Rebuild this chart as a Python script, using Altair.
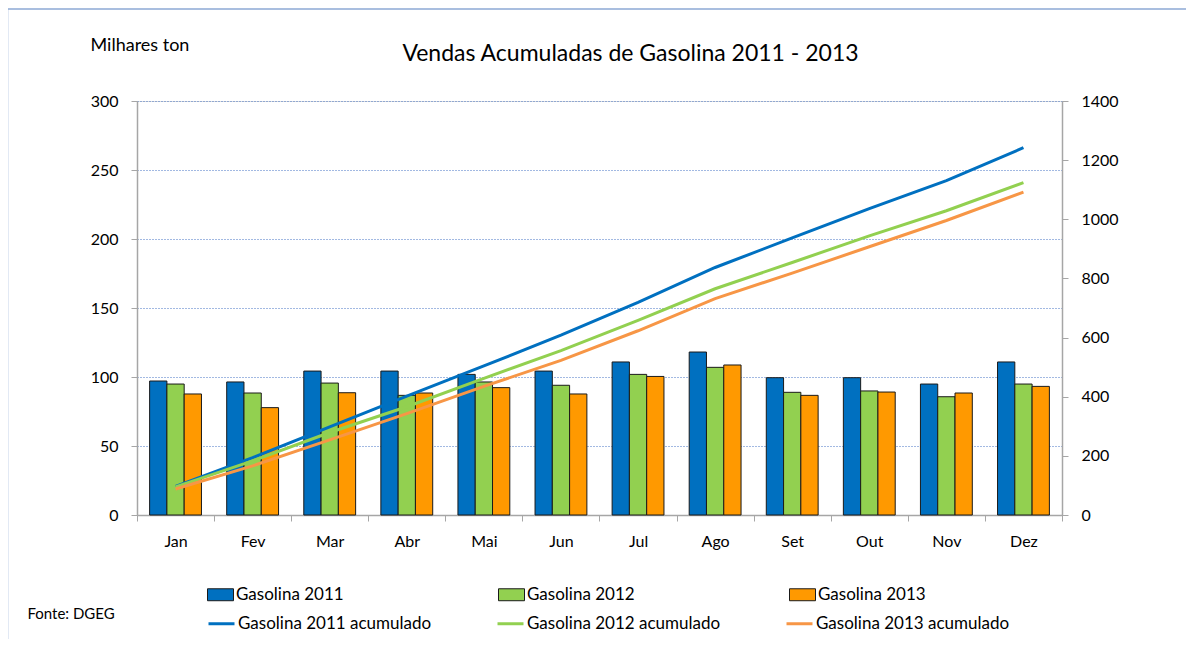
import altair as alt
import pandas as pd

meses = ["Jan", "Fev", "Mar", "Abr", "Mai", "Jun", "Jul", "Ago", "Set", "Out", "Nov", "Dez"]
series_bar = ["Gasolina 2011", "Gasolina 2012", "Gasolina 2013"]
series_line = ["Gasolina 2011 acumulado", "Gasolina 2012 acumulado", "Gasolina 2013 acumulado"]

g2011 = [97.1, 96.4, 104.3, 104.3, 101.9, 104.3, 110.9, 118.1, 99.5, 99.5, 94.9, 110.9]
g2012 = [94.9, 88.4, 95.6, 86.7, 96.4, 94.0, 101.9, 107.0, 88.9, 89.9, 85.7, 94.9]
g2013 = [87.7, 77.8, 88.6, 88.4, 92.3, 87.7, 100.4, 108.7, 86.7, 89.1, 88.4, 93.2]

a2011 = [97, 194, 298, 402, 504, 608, 719, 837, 937, 1036, 1131, 1242]
a2012 = [95, 183, 279, 366, 462, 556, 658, 765, 854, 944, 1029, 1124]
a2013 = [88, 166, 254, 343, 435, 523, 623, 732, 818, 907, 996, 1092]

bar_colors = ["#0070C0", "#92D050", "#FF9900"]
line_colors = ["#0070C0", "#92D050", "#F79646"]

bars_df = pd.DataFrame({
    "mes": meses * 3,
    "serie": [series_bar[0]] * 12 + [series_bar[1]] * 12 + [series_bar[2]] * 12,
    "valor": g2011 + g2012 + g2013,
})
lines_df = pd.DataFrame({
    "mes": meses * 3,
    "serie": [series_line[0]] * 12 + [series_line[1]] * 12 + [series_line[2]] * 12,
    "acum": a2011 + a2012 + a2013,
})

FONT = "Lato"
AXC = "#A6A6A6"

x_axis = alt.Axis(
    title="Fonte: DGEG", titleAngle=0, titleX=-110, titleY=98, titleAlign="left",
    titleBaseline="middle", titleFontSize=15, titleFontWeight="normal", titleFont=FONT,
    titleColor="#000000",
    labelAngle=0, labelFontSize=16, labelFont=FONT, labelColor="#000000", labelPadding=12,
    tickBand="extent", tickSize=6, tickColor=AXC, domainColor=AXC, domainWidth=1.5,
    grid=False,
)

bars = alt.Chart(bars_df).mark_bar(stroke="#1a1a1a", strokeWidth=1).encode(
    x=alt.X("mes:N", sort=meses, scale=alt.Scale(paddingInner=0, paddingOuter=0), axis=x_axis),
    xOffset=alt.XOffset("serie:N", sort=series_bar, scale=alt.Scale(paddingInner=0, paddingOuter=0.73)),
    y=alt.Y("valor:Q", scale=alt.Scale(domain=[0, 300], nice=False),
            axis=alt.Axis(orient="left", values=list(range(0, 301, 50)), grid=True,
                          gridColor="#4472C4", gridDash=[1, 2], gridWidth=1,
                          domainColor=AXC, domainWidth=1.5, tickColor=AXC, tickSize=6,
                          labelFontSize=16, labelFont=FONT, labelColor="#000000", labelPadding=13,
                          title="Milhares ton", titleAngle=0, titleAlign="left",
                          titleBaseline="middle", titleX=-47, titleY=-56, titleFontSize=18,
                          titleFontWeight="normal", titleFont=FONT, titleColor="#000000")),
    fill=alt.Fill("serie:N", sort=series_bar,
                  scale=alt.Scale(domain=series_bar, range=bar_colors),
                  legend=alt.Legend(orient="none", legendX=70, legendY=480, direction="horizontal",
                                    columns=3, gridAlign="all", columnPadding=152, padding=0,
                                    title=None, symbolType="M-1,-0.46H1V0.46H-1Z", symbolSize=676,
                                    symbolStrokeColor="#1a1a1a", symbolStrokeWidth=1,
                                    symbolOpacity=1, labelOffset=2, labelLimit=400,
                                    labelFontSize=17, labelFont=FONT, labelColor="#000000")),
)

lines = alt.Chart(lines_df).mark_line(strokeWidth=3).encode(
    x=alt.X("mes:N", sort=meses, axis=x_axis),
    y=alt.Y("acum:Q", scale=alt.Scale(domain=[0, 1400], nice=False),
            axis=alt.Axis(orient="right", values=list(range(0, 1401, 200)), grid=False, format="d",
                          domainColor=AXC, domainWidth=1.5, tickColor=AXC, tickSize=6,
                          labelFontSize=16, labelFont=FONT, labelColor="#000000", labelPadding=13,
                          title=None)),
    stroke=alt.Stroke("serie:N", sort=series_line,
                      scale=alt.Scale(domain=series_line, range=line_colors),
                      legend=alt.Legend(orient="none", legendX=70, legendY=508, direction="horizontal",
                                        columns=3, gridAlign="all", columnPadding=59, padding=0,
                                        title=None, symbolType="stroke", symbolSize=676,
                                        symbolStrokeWidth=3, labelOffset=2, labelLimit=400,
                                        labelFontSize=17, labelFont=FONT, labelColor="#000000")),
)

frame_df = pd.DataFrame({"k": [0]})
frame_left = alt.Chart(frame_df).mark_rule(color="#8DA9D4", strokeWidth=1.5).encode(
    x=alt.value(-129.5), y=alt.value(-92), y2=alt.value(540))
frame_top = alt.Chart(frame_df).mark_rule(color="#8DA9D4", strokeWidth=1.5).encode(
    x=alt.value(-129.5), x2=alt.value(1049), y=alt.value(-92))

chart = alt.layer(bars, lines, frame_left, frame_top).resolve_scale(
    y="independent"
).properties(
    width=925, height=414,
    title=alt.TitleParams("Vendas Acumuladas de Gasolina 2011 - 2013", fontSize=23, font=FONT,
                          fontWeight="normal", color="#000000", anchor="middle", frame="group",
                          dx=31, dy=69, offset=0, baseline="middle"),
    autosize=alt.AutoSizeParams(type="none"),
    padding={"left": 129, "top": 93, "right": 124, "bottom": 124},
).configure_view(fill="#F2F2F2", stroke=None).configure(background="#FFFFFF")

chart.save("out.html", embed_options={"renderer": "svg", "actions": False})
